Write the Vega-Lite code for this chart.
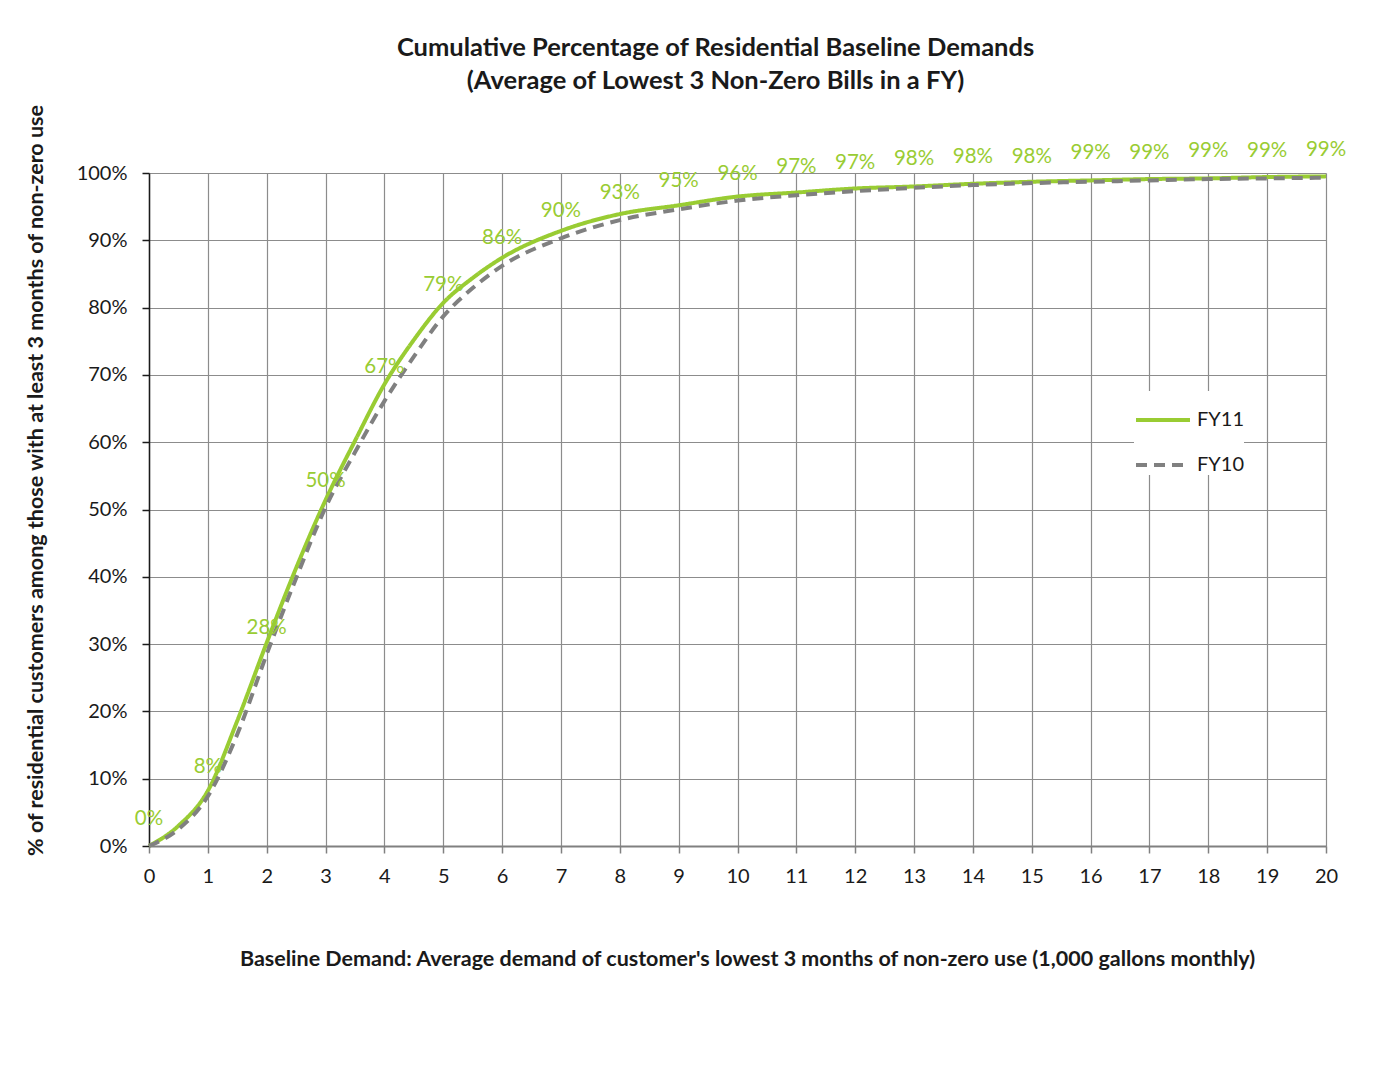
{
  "$schema": "https://vega.github.io/schema/vega-lite/v6.json",
  "width": 1177,
  "height": 673,
  "autosize": {"type": "none"},
  "padding": {"left": 149, "top": 173, "right": 58, "bottom": 221},
  "background": "white",
  "config": {
    "font": "Lato",
    "view": {"stroke": null},
    "axis": {"labelFont": "Lato", "titleFont": "Lato"}
  },
  "title": {
    "text": ["Cumulative Percentage of Residential Baseline Demands", "(Average of Lowest 3 Non-Zero Bills in a FY)"],
    "font": "Lato",
    "fontSize": 25.5,
    "fontWeight": "bold",
    "color": "#1a1a1a",
    "lineHeight": 33,
    "anchor": "middle",
    "frame": "group",
    "dx": -22,
    "offset": 9
  },
  "datasets": {
    "curves": [
      {"x": 0, "series": "FY11", "pct": 0},
      {"x": 0.5, "series": "FY11", "pct": 0.030},
      {"x": 1, "series": "FY11", "pct": 0.082},
      {"x": 1.5, "series": "FY11", "pct": 0.186},
      {"x": 2, "series": "FY11", "pct": 0.302},
      {"x": 2.5, "series": "FY11", "pct": 0.413},
      {"x": 3, "series": "FY11", "pct": 0.514},
      {"x": 3.5, "series": "FY11", "pct": 0.602},
      {"x": 4, "series": "FY11", "pct": 0.686},
      {"x": 4.5, "series": "FY11", "pct": 0.752},
      {"x": 5, "series": "FY11", "pct": 0.807},
      {"x": 5.5, "series": "FY11", "pct": 0.844},
      {"x": 6, "series": "FY11", "pct": 0.874},
      {"x": 7, "series": "FY11", "pct": 0.914},
      {"x": 8, "series": "FY11", "pct": 0.939},
      {"x": 9, "series": "FY11", "pct": 0.952},
      {"x": 10, "series": "FY11", "pct": 0.965},
      {"x": 11, "series": "FY11", "pct": 0.971},
      {"x": 12, "series": "FY11", "pct": 0.977},
      {"x": 13, "series": "FY11", "pct": 0.980},
      {"x": 14, "series": "FY11", "pct": 0.984},
      {"x": 15, "series": "FY11", "pct": 0.987},
      {"x": 16, "series": "FY11", "pct": 0.989},
      {"x": 17, "series": "FY11", "pct": 0.991},
      {"x": 18, "series": "FY11", "pct": 0.992},
      {"x": 19, "series": "FY11", "pct": 0.994},
      {"x": 20, "series": "FY11", "pct": 0.995},
      {"x": 0, "series": "FY10", "pct": 0},
      {"x": 0.5, "series": "FY10", "pct": 0.025},
      {"x": 1, "series": "FY10", "pct": 0.074},
      {"x": 1.5, "series": "FY10", "pct": 0.166},
      {"x": 2, "series": "FY10", "pct": 0.285},
      {"x": 2.5, "series": "FY10", "pct": 0.398},
      {"x": 3, "series": "FY10", "pct": 0.503},
      {"x": 3.5, "series": "FY10", "pct": 0.585},
      {"x": 4, "series": "FY10", "pct": 0.661},
      {"x": 4.5, "series": "FY10", "pct": 0.727},
      {"x": 5, "series": "FY10", "pct": 0.787},
      {"x": 5.5, "series": "FY10", "pct": 0.829},
      {"x": 6, "series": "FY10", "pct": 0.862},
      {"x": 7, "series": "FY10", "pct": 0.903},
      {"x": 8, "series": "FY10", "pct": 0.930},
      {"x": 9, "series": "FY10", "pct": 0.946},
      {"x": 10, "series": "FY10", "pct": 0.959},
      {"x": 11, "series": "FY10", "pct": 0.967},
      {"x": 12, "series": "FY10", "pct": 0.973},
      {"x": 13, "series": "FY10", "pct": 0.978},
      {"x": 14, "series": "FY10", "pct": 0.982},
      {"x": 15, "series": "FY10", "pct": 0.985},
      {"x": 16, "series": "FY10", "pct": 0.987},
      {"x": 17, "series": "FY10", "pct": 0.989},
      {"x": 18, "series": "FY10", "pct": 0.991},
      {"x": 19, "series": "FY10", "pct": 0.992},
      {"x": 20, "series": "FY10", "pct": 0.993}
    ],
    "labels": [
      {"x": 0, "pct": 0.0},
      {"x": 1, "pct": 0.078},
      {"x": 2, "pct": 0.284},
      {"x": 3, "pct": 0.502},
      {"x": 4, "pct": 0.671},
      {"x": 5, "pct": 0.793},
      {"x": 6, "pct": 0.863},
      {"x": 7, "pct": 0.904},
      {"x": 8, "pct": 0.930},
      {"x": 9, "pct": 0.948},
      {"x": 10, "pct": 0.958},
      {"x": 11, "pct": 0.969},
      {"x": 12, "pct": 0.974},
      {"x": 13, "pct": 0.980},
      {"x": 14, "pct": 0.983},
      {"x": 15, "pct": 0.984},
      {"x": 16, "pct": 0.989},
      {"x": 17, "pct": 0.990},
      {"x": 18, "pct": 0.992},
      {"x": 19, "pct": 0.993},
      {"x": 20, "pct": 0.994}
    ]
  },
  "layer": [
    {
      "data": {"name": "curves"},
      "mark": {"type": "line", "interpolate": "monotone", "clip": false, "strokeCap": "butt"},
      "encoding": {
        "x": {
          "field": "x", "type": "quantitative",
          "scale": {"domain": [0, 20], "nice": false, "zero": false},
          "axis": {
            "values": [0,1,2,3,4,5,6,7,8,9,10,11,12,13,14,15,16,17,18,19,20],
            "format": "d",
            "title": "Baseline Demand: Average demand of customer's lowest 3 months of non-zero use (1,000 gallons monthly)",
            "titleFontSize": 21.5,
            "titleFontWeight": "bold",
            "titleColor": "#1a1a1a",
            "titlePadding": 62,
            "titleX": 598,
            "labelFontSize": 20,
            "labelColor": "#1a1a1a",
            "labelPadding": 13,
            "labelFlush": false,
            "tickSize": 7,
            "tickColor": "#808080",
            "tickWidth": 1.5,
            "domainColor": "#808080",
            "domainWidth": 2,
            "grid": true,
            "gridColor": "#8c8c8c",
            "gridWidth": 1.2
          }
        },
        "y": {
          "field": "pct", "type": "quantitative",
          "scale": {"domain": [0, 1], "nice": false},
          "axis": {
            "values": [0, 0.1, 0.2, 0.3, 0.4, 0.5, 0.6, 0.7, 0.8, 0.9, 1.0],
            "format": ".0%",
            "title": "% of residential customers among those with at least 3 months of non-zero use",
            "titleFontSize": 21.5,
            "titleFontWeight": "bold",
            "titleColor": "#1a1a1a",
            "titlePadding": 29,
            "titleY": 307,
            "labelFontSize": 20,
            "labelColor": "#1a1a1a",
            "labelPadding": 15,
            "tickSize": 7,
            "tickColor": "#1a1a1a",
            "tickWidth": 1.5,
            "domainColor": "#1a1a1a",
            "domainWidth": 1.5,
            "grid": true,
            "gridColor": "#8c8c8c",
            "gridWidth": 1.2
          }
        },
        "color": {
          "field": "series", "type": "nominal",
          "scale": {"domain": ["FY11", "FY10"], "range": ["#99CC33", "#808080"]},
          "legend": {
            "title": null,
            "orient": "none",
            "legendX": 985,
            "legendY": 218,
            "fillColor": "white",
            "padding": 0,
            "symbolType": "stroke",
            "symbolSize": 2916,
            "symbolStrokeWidth": 4,
            "labelFontSize": 20,
            "labelColor": "#1a1a1a",
            "labelOffset": 5,
            "rowPadding": 6
          }
        },
        "strokeDash": {
          "field": "series", "type": "nominal",
          "scale": {"domain": ["FY11", "FY10"], "range": [[1, 0], [11, 7]]},
          "legend": null
        },
        "strokeWidth": {"value": 4},
        "order": {"field": "x", "type": "quantitative"}
      }
    },
    {
      "data": {"name": "labels"},
      "mark": {"type": "text", "color": "#99CC33", "fontSize": 20.5, "font": "Lato", "baseline": "middle", "align": "center", "dy": -27},
      "encoding": {
        "x": {"field": "x", "type": "quantitative"},
        "y": {"field": "pct", "type": "quantitative"},
        "text": {"field": "pct", "type": "quantitative", "format": ".0%"}
      }
    }
  ]
}
